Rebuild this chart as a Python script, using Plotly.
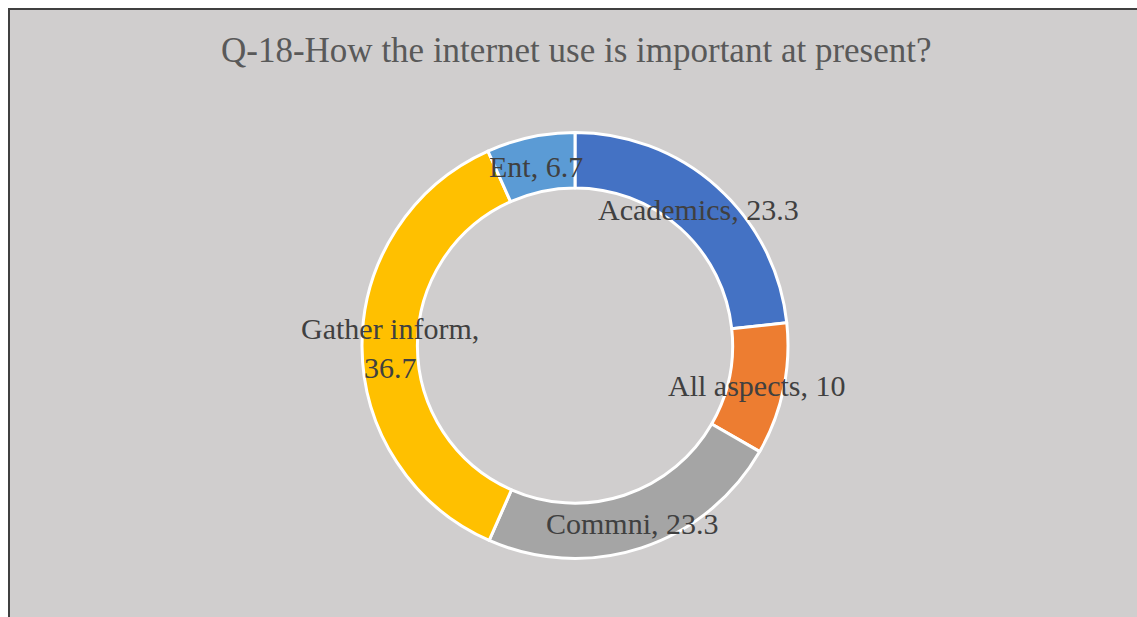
import math
import plotly.graph_objects as go

categories = ["Academics", "All aspects", "Commni", "Gather inform", "Ent"]
values = [23.3, 10, 23.3, 36.7, 6.7]
label_texts = ["Academics, 23.3", "All aspects, 10", "Commni, 23.3", "Gather inform,<br>36.7", "Ent, 6.7"]
colors = ["#4472C4", "#ED7D31", "#A5A5A5", "#FFC000", "#5B9BD5"]

W, H = 1137, 617
cx, cy, R = 575, 345.5, 213
hole = 0.74

fig = go.Figure()
fig.add_trace(go.Pie(
    labels=categories, values=values, sort=False, direction="clockwise", rotation=0,
    hole=hole, marker=dict(colors=colors, line=dict(color="white", width=3)),
    textinfo="none", hoverinfo="label+value", showlegend=False,
    domain=dict(x=[(cx - R) / W, (cx + R) / W], y=[1 - (cy + R) / H, 1 - (cy - R) / H]),
))

total = sum(values)
cum = 0
annotations = []
rm = R * (1 + hole) / 2
for v, t in zip(values, label_texts):
    mid = (cum + v / 2) / total * 2 * math.pi
    cum += v
    px = cx + rm * math.sin(mid)
    py = cy - rm * math.cos(mid)
    annotations.append(dict(x=px / W, y=1 - (py + 2) / H, xref="paper", yref="paper", text=t,
                            showarrow=False, xanchor="center", yanchor="middle",
                            font=dict(family="Liberation Serif", size=30, color="#404040")))

annotations.append(dict(x=576 / W, y=1 - 50 / H, xref="paper", yref="paper",
                        text="Q-18-How the internet use is important at present?",
                        showarrow=False, xanchor="center", yanchor="middle",
                        font=dict(family="Liberation Serif", size=35, color="#595959")))

fig.update_layout(
    width=W, height=H, margin=dict(l=0, r=0, t=0, b=0),
    paper_bgcolor="white", plot_bgcolor="white",
    annotations=annotations,
    shapes=[dict(type="rect", xref="paper", yref="paper", layer="below",
                 x0=9 / W, x1=1.05, y0=-0.05, y1=1 - 9 / H,
                 fillcolor="#D0CECE", line=dict(color="#404040", width=2))],
)
fig.write_html("out.html")
